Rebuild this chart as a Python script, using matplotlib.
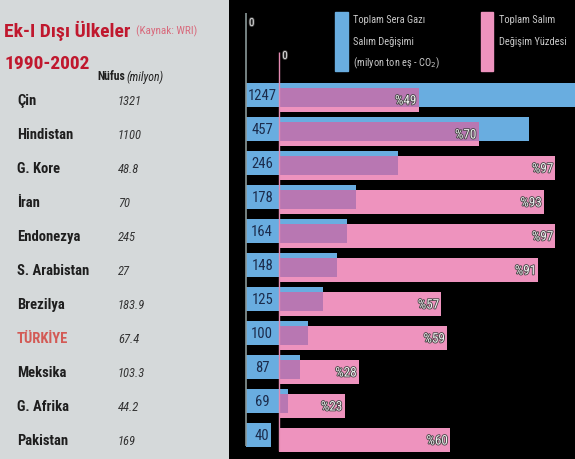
import matplotlib
matplotlib.use('Agg')
import matplotlib.pyplot as plt
import matplotlib.patheffects as pe
from matplotlib.patches import Rectangle
from matplotlib import font_manager

# ===============
# Data
# ===============
countries = ['Çin', 'Hindistan', 'G. Kore', 'İran', 'Endonezya', 'S. Arabistan',
             'Brezilya', 'TÜRKİYE', 'Meksika', 'G. Afrika', 'Pakistan']
population = ['1321', '1100', '48.8', '70', '245', '27', '183.9', '67.4', '103.3', '44.2', '169']
emission_change = [1247, 457, 246, 178, 164, 148, 125, 100, 87, 69, 40]   # milyon ton eş-CO2
change_percent = [49, 70, 97, 93, 97, 91, 57, 59, 28, 23, 60]            # %

# pick a narrow font if one is installed
fonts = font_manager.fontManager.ttflist
narrow_name, narrow_stretch = 'DejaVu Sans', 'normal'
for want in ['Liberation Sans Narrow', 'Roboto Condensed', 'Open Sans Condensed',
             'Noto Sans Condensed', 'DejaVu Sans Condensed']:
    if any(f.name == want for f in fonts):
        narrow_name = want
        break
else:
    for f in fonts:
        if f.stretch in ('condensed', 'semi-condensed', 'extra-condensed') and 'Mono' not in f.name \
                and 'Serif' not in f.name and 'CJK' not in f.name:
            narrow_name, narrow_stretch = f.name, f.stretch
            break
NARROW = dict(family=[narrow_name, 'DejaVu Sans'], fontstretch=narrow_stretch)

# ===============
# Style
# ===============
W, H = 575, 460
BLUE = '#69ade0'
PINK = '#ee93be'
PURPLE = '#b877b2'
PANEL = '#d5d9da'
RED = '#c0182e'
NAVY = '#1b2b4b'

split = 229          # left panel / black area boundary (px)
blue_zero = 245.7    # px
pink_zero = 279.0    # px
blue_scale = 0.62    # px per milyon ton
pink_scale = 2.85    # px per %
row0, pitch = 96.0, 34.0
n = len(countries)


def row_of(py):
    return (py - row0) / pitch


fig = plt.figure(figsize=(W / 100, H / 100), dpi=100, facecolor='black')

# left panel
ax_l = fig.add_axes([0, 0, split / W, 1])
ax_l.set_xlim(0, split)
ax_l.set_ylim(row_of(H), row_of(0))
ax_l.axis('off')
ax_l.add_patch(Rectangle((0, row_of(H)), split, row_of(0) - row_of(H), color=PANEL, zorder=0))

# right chart: two x scales over the same rows
ax_b = fig.add_axes([split / W, 0, (W - split) / W, 1])
ax_b.set_xlim((split - blue_zero) / blue_scale, (W - blue_zero) / blue_scale)
ax_b.set_ylim(row_of(H), row_of(0))
ax_b.axis('off')

ax_p = fig.add_axes([split / W, 0, (W - split) / W, 1])
ax_p.set_xlim((split - pink_zero) / pink_scale, (W - pink_zero) / pink_scale)
ax_p.set_ylim(row_of(H), row_of(0))
ax_p.axis('off')

rows = list(range(n))
bh = 24 / pitch
off = 5 / pitch

ax_b.barh(rows, emission_change, height=bh, color=BLUE, zorder=2)
ax_p.barh([r + off for r in rows], change_percent, height=bh, color=PINK, zorder=2)

# overlap of the two bars
for r, v, p in zip(rows, emission_change, change_percent):
    bx = ax_p.transData.inverted().transform(ax_b.transData.transform((v, 0)))[0]
    w = min(p, bx)
    if w <= 0:
        continue
    top = r + off - bh / 2
    bot = r + bh / 2
    ax_p.barh((top + bot) / 2, w, height=bot - top, color=PURPLE, zorder=3)

# zero lines
ax_b.vlines(0, row_of(14), row_of(447), color='#8a9898', lw=1.2, zorder=4)
ax_p.vlines(0, row_of(53), row_of(452), color='#e58ab2', lw=1.0, zorder=4)
outline = [pe.withStroke(linewidth=1.2, foreground='#444444')]
ax_b.annotate('0', xy=(0, row_of(24)), xytext=(6, 0), textcoords='offset pixels',
              ha='center', va='center', fontsize=8, color='#dddddd',
              path_effects=outline, **NARROW)
ax_p.annotate('0', xy=(0, row_of(57)), xytext=(6, 0), textcoords='offset pixels',
              ha='center', va='center', fontsize=8, color='#dddddd',
              path_effects=outline, **NARROW)

# value labels
for r, v, p in zip(rows, emission_change, change_percent):
    ax_b.annotate(str(v), xy=(0, r), xytext=(16.5, 0), textcoords='offset pixels',
                  ha='center', va='center', fontsize=10.5, color=NAVY, zorder=5, **NARROW)
    ax_p.annotate('%' + str(p), xy=(p, r + off + 0.03), xytext=(-2, 0), textcoords='offset pixels',
                  ha='right', va='center', fontsize=9.5, color='#eeeeee',
                  zorder=6, path_effects=outline, **NARROW)

# left table
for r, c, pop in zip(rows, countries, population):
    col = '#d35a55' if c == 'TÜRKİYE' else '#1e1e1e'
    ax_l.text(17, r + 0.15, c, ha='left', va='center', fontsize=10.5,
              fontweight='bold', color=col, **NARROW)
    ax_l.text(118, r + 0.15, pop, ha='left', va='center', fontsize=9,
              style='italic', color='#333333', **NARROW)

t1 = fig.text(4 / W, 1 - 31 / H, 'Ek-I Dışı Ülkeler', ha='left', va='center',
              fontsize=14, fontweight='bold', color=RED, **NARROW)
ax_l.annotate('(Kaynak: WRI)', xy=(1, 0.5), xycoords=t1, xytext=(6, 0),
              textcoords='offset pixels', ha='left', va='center',
              fontsize=8, color='#d86a7c', **NARROW)
fig.text(4 / W, 1 - 64 / H, '1990-2002', ha='left', va='center',
         fontsize=14, fontweight='bold', color=RED, **NARROW)
t2 = fig.text(97 / W, 1 - 77 / H, 'Nüfus', ha='left', va='center',
              fontsize=8.5, fontweight='bold', color='#1e1e1e', **NARROW)
ax_l.annotate('(milyon)', xy=(1, 0.5), xycoords=t2, xytext=(2, 0),
              textcoords='offset pixels', ha='left', va='center',
              fontsize=8.5, style='italic', color='#1e1e1e', **NARROW)

# legend
fig.patches.append(Rectangle((335 / W, 1 - 72 / H), 13 / W, 59 / H, color=BLUE,
                             transform=fig.transFigure, figure=fig))
fig.patches.append(Rectangle((481 / W, 1 - 72 / H), 12 / W, 59 / H, color=PINK,
                             transform=fig.transFigure, figure=fig))
leg_kw = dict(ha='left', va='center', fontsize=7.5, color='#c8c8c8', **NARROW)
fig.text(353 / W, 1 - 20 / H, 'Toplam Sera Gazı', **leg_kw)
fig.text(353 / W, 1 - 42 / H, 'Salım Değişimi', **leg_kw)
fig.text(353 / W, 1 - 63 / H, '(milyon ton eş - CO$_2$)', **leg_kw)
fig.text(499 / W, 1 - 20 / H, 'Toplam Salım', **leg_kw)
fig.text(499 / W, 1 - 42 / H, 'Değişim Yüzdesi', **leg_kw)

fig.savefig('out.png', dpi=100, facecolor='black')
